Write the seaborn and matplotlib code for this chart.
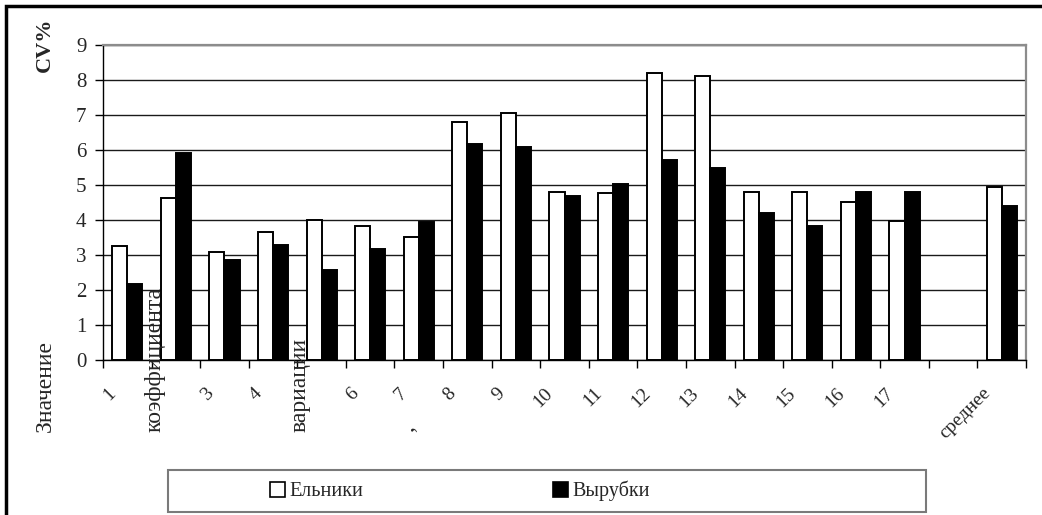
import numpy as np
import pandas as pd
import matplotlib
matplotlib.use("Agg")
import matplotlib.pyplot as plt
from matplotlib.patches import Rectangle, Patch
import seaborn as sns

# --- data -------------------------------------------------------------
sites = [str(i) for i in range(1, 18)] + ["среднее"]
categories = [str(i) for i in range(1, 18)] + [" ", "среднее"]   # blank slot before the mean
tick_labels = ["1", "", "3", "4", "", "6", "7", "8", "9", "10", "11", "12",
               "13", "14", "15", "16", "17", "", "среднее"]
elniki = [3.26, 4.62, 3.09, 3.67, 4.00, 3.83, 3.51, 6.81, 7.07, 4.81,
          4.76, 8.21, 8.11, 4.81, 4.80, 4.51, 3.98, 4.93]
vyrubki = [2.17, 5.92, 2.86, 3.30, 2.57, 3.16, 3.94, 6.17, 6.08, 4.68,
           5.04, 5.72, 5.49, 4.20, 3.83, 4.81, 4.81, 4.40]
series_names = ["Ельники", "Вырубки"]
series_colors = ["white", "black"]
y_ticks = list(range(0, 10))
title_parts = ["Значение", "коэффициента", "вариации", ","]
units_label = "CV%"

df = pd.DataFrame({
    "site": sites * 2,
    "value": elniki + vyrubki,
    "series": [series_names[0]] * len(sites) + [series_names[1]] * len(sites),
})

# --- style ------------------------------------------------------------
sns.set_theme(style="white")
plt.rcParams["font.family"] = ["Liberation Serif", "DejaVu Serif"]

W, H = 1042, 515
fig = plt.figure(figsize=(W / 100, H / 100), dpi=100)
ax = fig.add_axes([103 / W, 1 - 360 / H, (1026 - 103) / W, (360 - 45) / H])

sns.barplot(data=df, x="site", y="value", hue="series", order=categories,
            hue_order=series_names, palette=series_colors, edgecolor="black",
            linewidth=1.4, width=0.62, saturation=1, legend=False, ax=ax)

n = len(categories)
ax.set_xlim(-0.5, n - 0.5)
ax.set_ylim(0, 9)
ax.set_yticks(y_ticks)
ax.set_yticklabels([str(v) for v in y_ticks], fontsize=15)
ax.yaxis.grid(True, color="#1a1a1a", linewidth=1.0)
ax.set_axisbelow(True)

# category labels sit left of centre; tick marks sit on slot boundaries
ax.set_xticks(np.arange(n) - 0.29)
ax.set_xticklabels(tick_labels, fontsize=14, rotation=45,
                   ha="right", va="center", rotation_mode="anchor")
ax.set_xticks(np.arange(n + 1) - 0.5, minor=True)
ax.tick_params(axis="x", which="major", length=0, pad=22)
ax.tick_params(axis="x", which="minor", bottom=True, length=6,
               direction="out", color="black", width=1)
ax.tick_params(axis="y", left=True, length=6, direction="out",
               color="black", width=1, pad=6)
ax.set_xlabel("")
ax.set_ylabel("")

for side in ("left", "bottom"):
    ax.spines[side].set_color("black")
    ax.spines[side].set_linewidth(1.0)
for side in ("top", "right"):
    ax.spines[side].set_color("#8c8c8c")
    ax.spines[side].set_linewidth(1.6)

# --- axis title, split across the bottom area ---------------------------
fig.text(45 / W, 1 - 18 / H, units_label, rotation=90, ha="center", va="top",
         fontsize=16, fontweight="bold")
part_x = [45, 155, 300, 408]
for text, px in zip(title_parts, part_x):
    fig.text(px / W, 1 - 432 / H, text, rotation=90, ha="center",
             va="bottom", fontsize=17)

# --- legend -----------------------------------------------------------
fig.patches.append(Rectangle((168 / W, 1 - 512 / H), (926 - 168) / W, 42 / H,
                             transform=fig.transFigure, facecolor="white",
                             edgecolor="#7a7a7a", linewidth=1.5))
handles = [Patch(facecolor=c, edgecolor="black", linewidth=1.2)
           for c in series_colors]
fig.legend(handles, series_names, loc="center left",
           bbox_to_anchor=(270 / W, 1 - 491 / H), ncol=2, frameon=False,
           fontsize=14.5, handlelength=0.75, handleheight=0.75,
           handletextpad=0.2, columnspacing=9.45, borderpad=0,
           borderaxespad=0)

# outer frame of the figure
fig.patches.append(Rectangle((6 / W, -0.1), 1.2, 1.1 - 6 / H,
                             transform=fig.transFigure, facecolor="none",
                             edgecolor="black", linewidth=2.5))

fig.savefig("out.png", dpi=100)
